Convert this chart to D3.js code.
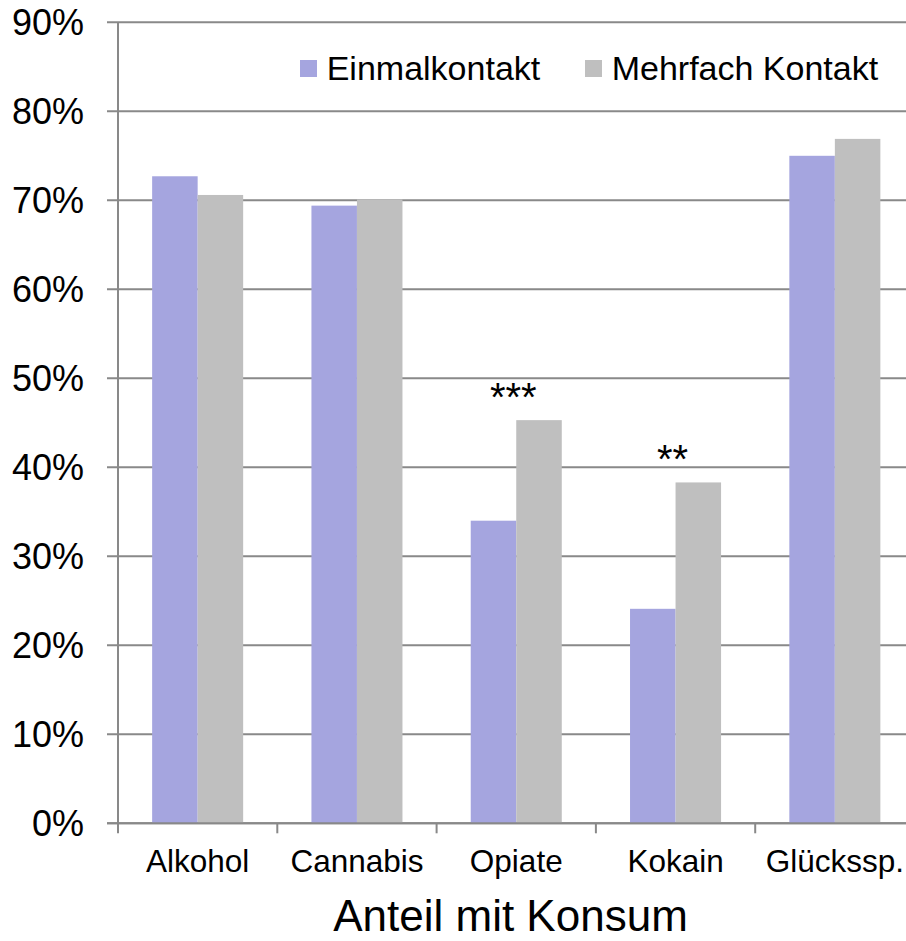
<!DOCTYPE html>
<html>
<head>
<meta charset="utf-8">
<script src="https://cdn.jsdelivr.net/npm/d3@7"></script>
<style>
  body { margin: 0; background: #fff; }
  text { font-family: "Liberation Sans", Arial, sans-serif; fill: #000; }
</style>
</head>
<body>
<div id="chart"></div>
<script>
// data
const categories = ["Alkohol", "Cannabis", "Opiate", "Kokain", "Glückssp."];
const seriesNames = ["Einmalkontakt", "Mehrfach Kontakt"];
const einmal = [0.727, 0.694, 0.340, 0.241, 0.750];
const mehrfach = [0.706, 0.701, 0.453, 0.383, 0.769];
const significance = ["", "", "***", "**", ""];
const yTicks = [0, 0.1, 0.2, 0.3, 0.4, 0.5, 0.6, 0.7, 0.8, 0.9];
const colors = ["#a5a5df", "#bfbfbf"];

const width = 906, height = 941;
const plotLeft = 118, plotRight = 914.5, plotTop = 22.3, plotBottom = 823.3;

const svg = d3.select("#chart").append("svg")
  .attr("width", width)
  .attr("height", height);

const x0 = d3.scaleBand().domain(categories).range([plotLeft, plotRight]).padding(0);
const x1 = d3.scaleBand().domain(seriesNames).range([0, x0.bandwidth()])
  .paddingInner(0).paddingOuter(0.75);
const y = d3.scaleLinear().domain([0, 0.9]).range([plotBottom, plotTop]);

// gridlines
svg.append("g")
  .selectAll("line")
  .data(yTicks)
  .enter()
  .append("line")
  .attr("x1", plotLeft - 11)
  .attr("x2", plotRight)
  .attr("y1", d => y(d))
  .attr("y2", d => y(d))
  .attr("stroke", "#898989")
  .attr("stroke-width", 2);

// y tick labels
svg.append("g")
  .selectAll("text")
  .data(yTicks)
  .enter()
  .append("text")
  .attr("x", 84)
  .attr("y", d => y(d))
  .attr("dy", "0.36em")
  .attr("text-anchor", "end")
  .style("font-size", "36px")
  .text(d => d3.format(".0%")(d));

// bars
const rows = categories.map((c, i) => ({ cat: c, values: [einmal[i], mehrfach[i]] }));
const groups = svg.append("g")
  .selectAll("g")
  .data(rows)
  .enter()
  .append("g")
  .attr("transform", d => "translate(" + x0(d.cat) + ",0)");

groups.selectAll("rect")
  .data(d => d.values.map((v, j) => ({ s: seriesNames[j], v: v, j: j })))
  .enter()
  .append("rect")
  .attr("x", d => x1(d.s))
  .attr("width", x1.bandwidth())
  .attr("y", d => y(d.v))
  .attr("height", d => y(0) - y(d.v))
  .attr("fill", d => colors[d.j]);

// y axis line
svg.append("line")
  .attr("x1", plotLeft).attr("x2", plotLeft)
  .attr("y1", plotTop).attr("y2", plotBottom)
  .attr("stroke", "#898989")
  .attr("stroke-width", 2);

// x axis baseline + ticks at category boundaries
svg.append("line")
  .attr("x1", plotLeft - 11).attr("x2", plotRight)
  .attr("y1", plotBottom).attr("y2", plotBottom)
  .attr("stroke", "#898989")
  .attr("stroke-width", 2);

const boundaries = categories.map(c => x0(c)).concat([x0(categories[categories.length - 1]) + x0.bandwidth()]);
svg.append("g")
  .selectAll("line")
  .data(boundaries)
  .enter()
  .append("line")
  .attr("x1", d => d).attr("x2", d => d)
  .attr("y1", plotBottom).attr("y2", plotBottom + 10)
  .attr("stroke", "#898989")
  .attr("stroke-width", 2);

// category labels
svg.append("g")
  .selectAll("text")
  .data(categories)
  .enter()
  .append("text")
  .attr("x", d => x0(d) + x0.bandwidth() / 2)
  .attr("y", 872)
  .attr("text-anchor", "middle")
  .style("font-size", "31.5px")
  .text(d => d);

// significance stars
svg.append("g")
  .selectAll("text")
  .data(categories)
  .enter()
  .append("text")
  .attr("x", d => x0(d) + x0.bandwidth() / 2 - 3)
  .attr("y", (d, i) => y(Math.max(einmal[i], mehrfach[i])) - 9)
  .attr("text-anchor", "middle")
  .style("font-size", "40px")
  .text((d, i) => significance[i]);

// axis title
svg.append("text")
  .attr("x", 510.5)
  .attr("y", 930.5)
  .attr("text-anchor", "middle")
  .style("font-size", "44px")
  .text("Anteil mit Konsum");

// legend
const legendX = [300, 585];
const legend = svg.append("g")
  .selectAll("g")
  .data(seriesNames)
  .enter()
  .append("g")
  .attr("transform", (d, i) => "translate(" + legendX[i] + ",60)");

legend.append("rect")
  .attr("width", 17)
  .attr("height", 17)
  .attr("fill", (d, i) => colors[i]);

legend.append("text")
  .attr("x", 26.7)
  .attr("y", 20)
  .style("font-size", "34px")
  .text(d => d);
</script>
</body>
</html>
